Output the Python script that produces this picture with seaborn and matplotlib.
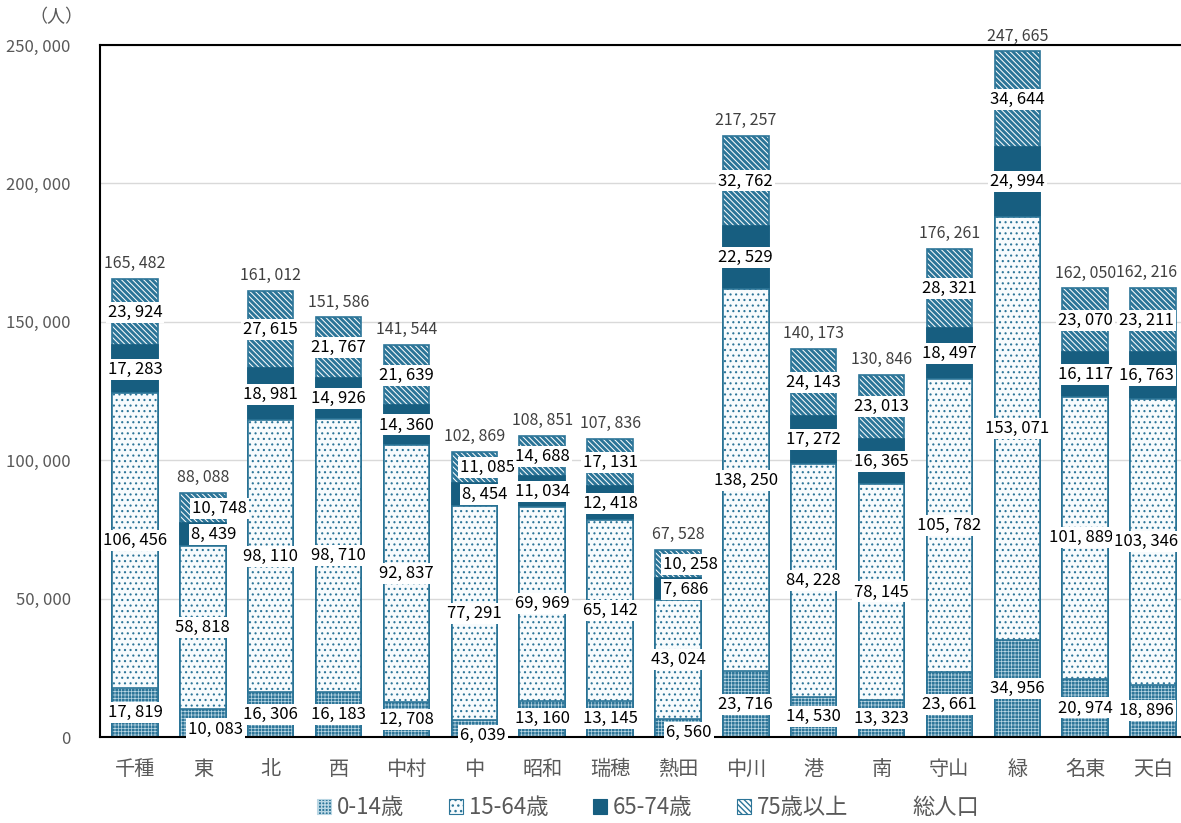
import matplotlib
matplotlib.use("Agg")
import matplotlib.pyplot as plt
from matplotlib.patches import Patch
from matplotlib.lines import Line2D
import seaborn as sns
import pandas as pd

# 名古屋市 区別・年齢区分別人口
wards = ["千種", "東", "北", "西", "中村", "中", "昭和", "瑞穂",
         "熱田", "中川", "港", "南", "守山", "緑", "名東", "天白"]
age_0_14 = [17819, 10083, 16306, 16183, 12708, 6039, 13160, 13145,
            6560, 23716, 14530, 13323, 23661, 34956, 20974, 18896]
age_15_64 = [106456, 58818, 98110, 98710, 92837, 77291, 69969, 65142,
             43024, 138250, 84228, 78145, 105782, 153071, 101889, 103346]
age_65_74 = [17283, 8439, 18981, 14926, 14360, 8454, 11034, 12418,
             7686, 22529, 17272, 16365, 18497, 24994, 16117, 16763]
age_75_over = [23924, 10748, 27615, 21767, 21639, 11085, 14688, 17131,
               10258, 32762, 24143, 23013, 28321, 34644, 23070, 23211]
totals = [165482, 88088, 161012, 151586, 141544, 102869, 108851, 107836,
          67528, 217257, 140173, 130846, 176261, 247665, 162050, 162216]
series_names = ["0-14歳", "15-64歳", "65-74歳", "75歳以上"]

TEAL = "#2c7598"
SOLID = "#175e80"
LIGHT = "#b9d6e3"
PALE = "#f7fbfd"

# label nudges for the narrow bars: (series, ward index) -> (dx, dy in persons)
nudges = {
    ("75歳以上", 1): (0.24, 0), ("65-74歳", 1): (0.16, 0), ("0-14歳", 1): (0.18, -2150),
    ("75歳以上", 5): (0.19, 0), ("65-74歳", 5): (0.15, 0), ("0-14歳", 5): (0.13, -2300),
    ("75歳以上", 8): (0.18, 0), ("65-74歳", 8): (0.12, 0), ("0-14歳", 8): (0.16, -1480),
    ("15-64歳", 14): (-0.06, 0),
}
edge_shift = {15: -0.1}   # keep the last column's labels inside the picture

def fmt(v):
    return f"{v:,}".replace(",", ", ")

sns.set_style("white")
plt.rcParams["font.family"] = ["Noto Sans CJK JP", "DejaVu Sans"]

df = pd.DataFrame({"区": wards, "0-14歳": age_0_14, "15-64歳": age_15_64,
                   "65-74歳": age_65_74, "75歳以上": age_75_over})
cum = df[series_names].cumsum(axis=1)

styles = {
    "75歳以上": dict(face="white", edge=TEAL, hatch="\\" * 6, hlw=2.1, lw=1.2),
    "65-74歳": dict(face=SOLID, edge=SOLID, hatch=None, hlw=1.0, lw=1.2),
    "15-64歳": dict(face=PALE, edge=TEAL, hatch="...", hlw=0.8, lw=1.2),
    "0-14歳": dict(face=TEAL, edge=LIGHT, hatch="+++++", hlw=0.5, lw=0),
}


def style_patch(p, st):
    p.set_facecolor(st["face"])
    p.set_edgecolor(st["edge"])
    if st["hatch"]:
        p.set_hatch(st["hatch"])
        if hasattr(p, "set_hatch_linewidth"):
            p.set_hatch_linewidth(st["hlw"])


fig = plt.figure(figsize=(11.81, 8.23), dpi=100)
ax = fig.add_axes([100 / 1181, 86 / 823, 1088 / 1181, 692 / 823])

bar_w = 0.67
for name in reversed(series_names):
    st = styles[name]
    n0 = len(ax.patches)
    with plt.rc_context({"hatch.linewidth": st["hlw"]}):
        sns.barplot(x=df["区"], y=cum[name], color=st["face"], saturation=1,
                    width=bar_w, errorbar=None, edgecolor=st["edge"],
                    linewidth=st["lw"], ax=ax)
        for p in ax.patches[n0:]:
            style_patch(p, st)

# outline of the bottom segment
sns.barplot(x=df["区"], y=df["0-14歳"], fill=False, color=TEAL, width=bar_w,
            errorbar=None, linewidth=1.2, ax=ax)

# segment labels
for name in series_names:
    bottoms = cum[name] - df[name]
    for i, v in enumerate(df[name]):
        dx, dy = nudges.get((name, i), (0, 0))
        dx += edge_shift.get(i, 0)
        ax.text(i + dx, bottoms[i] + v / 2 + dy, fmt(v), ha="center", va="center",
                fontsize=12, color="black",
                bbox=dict(boxstyle="square,pad=0.12", fc="white", ec="none"))

# totals
for i, t in enumerate(totals):
    ax.annotate(fmt(t), (i + edge_shift.get(i, 0), t), xytext=(0, 5),
                textcoords="offset points", ha="center", va="bottom",
                fontsize=11.5, color="#404040")

ax.set_xlim(-0.515, 15.515)
ax.set_ylim(0, 250000)
ax.set_yticks(range(0, 250001, 50000))
ax.set_yticklabels([fmt(v) for v in range(0, 250001, 50000)])
ax.set_xlabel("")
ax.set_ylabel("")
ax.tick_params(axis="y", length=0, pad=21, labelsize=12, labelcolor="#595959")
ax.tick_params(axis="x", length=0, pad=16, labelsize=14.5, labelcolor="#595959")
ax.yaxis.grid(True, color="#d9d9d9", lw=1)
ax.set_axisbelow(True)
for s in ["left", "top", "bottom"]:
    ax.spines[s].set_color("black")
    ax.spines[s].set_linewidth(1.5)
ax.spines["right"].set_visible(False)

fig.text(56 / 1181, 1 - 17 / 823, "（人）", ha="center", va="center",
         fontsize=13, color="#595959")

leg_patches = []
for name in series_names:
    st = styles[name]
    with plt.rc_context({"hatch.linewidth": st["hlw"]}):
        hp = Patch(facecolor=st["face"], edgecolor=st["edge"], lw=0.8)
        style_patch(hp, st)
    leg_patches.append(hp)
handles = leg_patches + [Line2D([], [], color="none")]
fig.legend(handles, series_names + ["総人口"], loc="center",
           bbox_to_anchor=(648 / 1181, 1 - 808 / 823), ncol=5, frameon=False,
           fontsize=16, handlelength=0.65, handleheight=0.65, columnspacing=2.0,
           handletextpad=0.25, labelcolor="#595959")

fig.savefig("out.png", dpi=100)
